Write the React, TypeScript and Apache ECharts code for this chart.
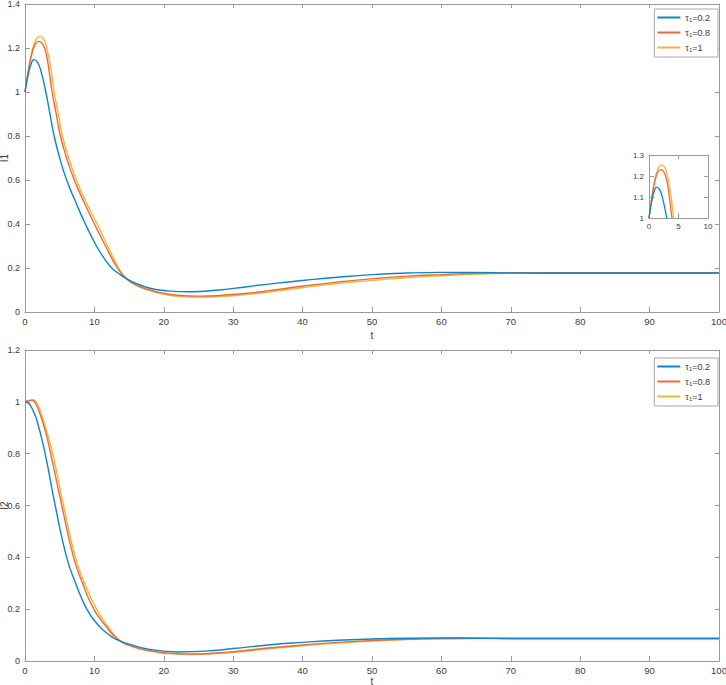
import React, { useEffect, useRef } from "react";
import * as echarts from "echarts";

// ---- data: [t, value] ----
const I1_TAU02: [number, number][] = [
  [0, 1], [0.5, 1.085], [1, 1.138], [1.3, 1.147], [1.8, 1.135], [2.3, 1.095], [3, 1.0], [3.6, 0.9],
  [4.2, 0.8], [5, 0.7], [6, 0.6], [7.3, 0.5], [8.7, 0.4], [10.3, 0.3], [11.5, 0.24], [12.5, 0.2],
  [13.5, 0.175], [14.5, 0.154], [16, 0.13], [18, 0.108], [20, 0.098], [23.8, 0.092], [28, 0.1],
  [32, 0.115], [36, 0.13], [40, 0.143], [45, 0.158], [50, 0.17], [55, 0.177], [60, 0.18], [65, 0.18],
  [70, 0.178], [80, 0.177], [90, 0.177], [100, 0.177],
];
const I1_TAU08: [number, number][] = [
  [0, 1], [0.5, 1.1], [1, 1.175], [1.5, 1.218], [2, 1.23], [2.5, 1.22], [3, 1.18], [3.5, 1.09],
  [3.9, 1.0], [4.5, 0.9], [5.1, 0.8], [6, 0.7], [7.1, 0.6], [8.5, 0.5], [10, 0.4], [11.6, 0.3],
  [13.3, 0.2], [14.5, 0.154], [16, 0.123], [18, 0.1], [20, 0.085], [22, 0.076], [25.3, 0.072],
  [28, 0.075], [32, 0.085], [35, 0.096], [39.6, 0.116], [45, 0.136], [50.6, 0.153], [55, 0.163],
  [60, 0.17], [65, 0.175], [70, 0.177], [80, 0.177], [100, 0.177],
];
const I1_TAU1: [number, number][] = [
  [0, 1], [0.5, 1.1], [1, 1.185], [1.5, 1.232], [2.1, 1.253], [2.6, 1.245], [3.1, 1.205], [3.7, 1.11],
  [4.2, 1.0], [4.8, 0.9], [5.4, 0.8], [6.3, 0.7], [7.4, 0.6], [8.8, 0.5], [10.4, 0.4], [11.9, 0.3],
  [13.5, 0.2], [14.5, 0.156], [16, 0.121], [18, 0.097], [20, 0.081], [22, 0.071], [25.3, 0.067],
  [28, 0.07], [32, 0.08], [35, 0.09], [39.6, 0.109], [45, 0.129], [50.6, 0.145], [55, 0.156],
  [60, 0.165], [65, 0.172], [70, 0.176], [75, 0.177], [100, 0.177],
];

const I2_TAU02: [number, number][] = [
  [0, 1], [0.5, 0.995], [1, 0.975], [1.7, 0.93], [2.9, 0.8], [4.35, 0.6], [6, 0.4], [7.3, 0.3],
  [8.9, 0.2], [10.5, 0.14], [12.3, 0.097], [13.3, 0.082], [15, 0.065], [18, 0.045], [22, 0.035],
  [26, 0.038], [30, 0.048], [35, 0.062], [40, 0.072], [45, 0.08], [50, 0.085], [55, 0.088],
  [60, 0.089], [65, 0.088], [70, 0.087], [80, 0.087], [100, 0.087],
];
const I2_TAU08: [number, number][] = [
  [0, 1], [0.5, 1.004], [1, 1.006], [1.5, 0.995], [2.2, 0.95], [3, 0.88], [3.7, 0.8], [5.3, 0.6],
  [7, 0.4], [8.3, 0.3], [9.9, 0.2], [11.5, 0.14], [13.3, 0.085], [15, 0.06], [18, 0.04], [20, 0.032],
  [24, 0.027], [30, 0.036], [35, 0.05], [40, 0.062], [45, 0.072], [50, 0.079], [55, 0.084],
  [60, 0.087], [65, 0.088], [70, 0.087], [100, 0.087],
];
const I2_TAU1: [number, number][] = [
  [0, 1], [0.5, 1.005], [1.2, 1.008], [1.7, 0.995], [2.4, 0.95], [3.3, 0.87], [4, 0.8], [5.55, 0.6],
  [7.25, 0.4], [8.6, 0.3], [10.3, 0.2], [11.8, 0.14], [13.3, 0.088], [15, 0.06], [18, 0.038],
  [20, 0.03], [24, 0.025], [30, 0.033], [35, 0.047], [40, 0.059], [45, 0.069], [50, 0.077],
  [55, 0.083], [60, 0.086], [65, 0.087], [70, 0.087], [100, 0.087],
];

const SERIES_NAMES = ["tau=0.2", "tau=0.8", "tau=1"];
const LEGEND_VALUES = ["0.2", "0.8", "1"];
const COLORS = ["#0a86cc", "#ee6a36", "#f5b53c"];

const AXIS_COLOR = "#9a9a9a";
const LABEL_COLOR = "#3c3c3c";
const FONT = "'Liberation Sans', Arial, sans-serif";

export default function App() {
  const ref = useRef<HTMLDivElement>(null);

  useEffect(() => {
    if (!ref.current) return;
    const chart = echarts.init(ref.current, null, { renderer: "svg" });

    const grids = [
      { left: 25, top: 4, right: 7, height: 308, outerBoundsMode: "none", containLabel: false },
      { left: 649, top: 155, width: 59, height: 63, outerBoundsMode: "none", containLabel: false },
      { left: 25, top: 350, right: 7, height: 311, outerBoundsMode: "none", containLabel: false },
    ];

    const mkX = (gi: number, min: number, max: number, interval: number, box: boolean, fs: number, name?: string, gap = 18) => ({
      type: "value",
      gridIndex: gi,
      min,
      max,
      interval,
      position: box ? "top" : "bottom",
      name: box ? undefined : name,
      nameLocation: "middle",
      nameGap: gap,
      nameMoveOverlap: false,
      nameTextStyle: { color: LABEL_COLOR, fontSize: 10, fontFamily: FONT },
      axisLine: { show: true, onZero: false, lineStyle: { color: AXIS_COLOR, width: 1 } },
      axisTick: { show: true, inside: true, length: box ? 4 : 5, lineStyle: { color: AXIS_COLOR } },
      axisLabel: { show: !box, color: LABEL_COLOR, fontSize: fs, fontFamily: FONT, margin: 4 },
      splitLine: { show: false },
    });
    const mkY = (gi: number, min: number, max: number, interval: number, box: boolean, fs: number, name?: string) => ({
      type: "value",
      gridIndex: gi,
      min,
      max,
      interval,
      position: box ? "right" : "left",
      name: box ? undefined : name,
      nameLocation: "middle",
      nameGap: 16,
      nameMoveOverlap: false,
      nameTextStyle: { color: LABEL_COLOR, fontSize: 10, fontFamily: FONT },
      axisLine: { show: true, onZero: false, lineStyle: { color: AXIS_COLOR, width: 1 } },
      axisTick: { show: true, inside: true, length: box ? 4 : 5, lineStyle: { color: AXIS_COLOR } },
      axisLabel: { show: !box, color: LABEL_COLOR, fontSize: fs, fontFamily: FONT, margin: 5 },
      splitLine: { show: false },
    });

    const xAxis = [
      mkX(0, 0, 100, 10, false, 9.5, "t", 18),
      mkX(0, 0, 100, 10, true, 9.5),
      mkX(1, 0, 10, 5, false, 8),
      mkX(1, 0, 10, 5, true, 8),
      mkX(2, 0, 100, 10, false, 9.5, "t", 15),
      mkX(2, 0, 100, 10, true, 9.5),
    ];
    const yAxis = [
      mkY(0, 0, 1.4, 0.2, false, 9, "I1"),
      mkY(0, 0, 1.4, 0.2, true, 9),
      mkY(1, 1, 1.3, 0.1, false, 8),
      mkY(1, 1, 1.3, 0.1, true, 8),
      mkY(2, 0, 1.2, 0.2, false, 9, "I2"),
      mkY(2, 0, 1.2, 0.2, true, 9),
    ];

    const sets = [
      { data: [I1_TAU02, I1_TAU08, I1_TAU1], axis: 0, width: 1.4 },
      { data: [I1_TAU02, I1_TAU08, I1_TAU1], axis: 2, width: 1.3 },
      { data: [I2_TAU02, I2_TAU08, I2_TAU1], axis: 4, width: 1.4 },
    ];
    const series: any[] = [];
    sets.forEach((s) => {
      s.data.forEach((d, i) => {
        series.push({
          type: "line",
          name: SERIES_NAMES[i],
          xAxisIndex: s.axis,
          yAxisIndex: s.axis,
          data: d,
          showSymbol: false,
          symbol: "none",
          smooth: 0.5,
          clip: true,
          lineStyle: { color: COLORS[i], width: s.width },
          itemStyle: { color: COLORS[i] },
          z: 3 - i,
        });
      });
    });

    const legendFormatter = (name: string) => {
      const idx = SERIES_NAMES.indexOf(name);
      return `{a|τ}{s|1}{a|=${LEGEND_VALUES[idx]}}`;
    };
    const mkLegend = (top: number) => ({
      data: SERIES_NAMES,
      orient: "vertical",
      right: 8,
      top,
      icon: "rect",
      itemWidth: 23,
      itemHeight: 2,
      itemGap: 5,
      padding: [4, 8, 4, 3],
      backgroundColor: "#ffffff",
      borderColor: "#a8a8a8",
      borderWidth: 1,
      borderRadius: 0,
      formatter: legendFormatter,
      textStyle: {
        color: LABEL_COLOR,
        fontFamily: FONT,
        fontSize: 9,
        rich: {
          a: { fontSize: 9, fontFamily: FONT, color: LABEL_COLOR },
          s: { fontSize: 6, fontFamily: FONT, color: LABEL_COLOR, padding: [5, 0, 0, 0] },
        },
      },
    });

    chart.setOption({
      animation: false,
      backgroundColor: "#ffffff",
      grid: grids,
      xAxis,
      yAxis,
      legend: [mkLegend(9), mkLegend(358)],
      series,
    });

    return () => chart.dispose();
  }, []);

  return <div ref={ref} style={{ width: 726, height: 685, position: "absolute", left: 0, top: 0 }} />;
}
